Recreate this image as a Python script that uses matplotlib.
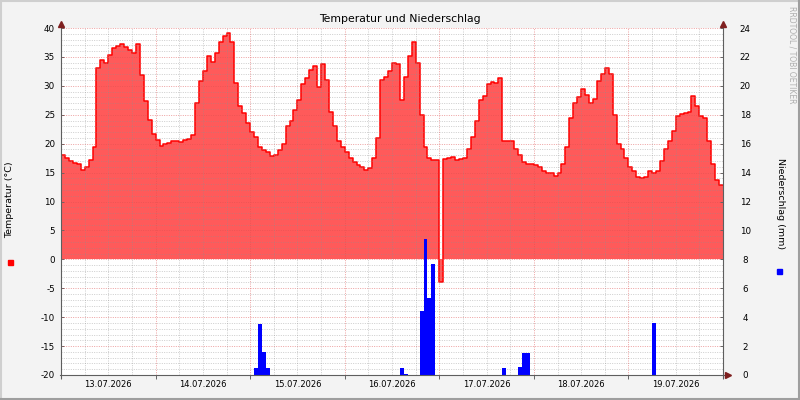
import numpy as np
import matplotlib
matplotlib.use("Agg")
import matplotlib.pyplot as plt
from matplotlib.patches import Rectangle
from matplotlib.lines import Line2D

plt.rcParams["axes.unicode_minus"] = False

# ---------------- data ----------------
title = "Temperatur und Niederschlag"
left_label = "Temperatur (°C)"
right_label = "Niederschlag (mm)"
watermark = "RRDTOOL / TOBI OETIKER"
day_labels = ["13.07.2026", "14.07.2026", "15.07.2026", "16.07.2026",
              "17.07.2026", "18.07.2026", "19.07.2026"]

# hourly temperature values (°C), one list per day
temp_day1 = [18.0, 17.6, 17.0, 16.6, 16.5, 15.4, 15.9, 17.2, 19.5, 33.0, 34.5, 33.9,
             35.3, 36.6, 36.9, 37.3, 36.8, 36.2, 35.6, 37.2, 31.9, 27.3, 24.1, 21.6]
temp_day2 = [20.6, 19.6, 19.9, 20.2, 20.4, 20.5, 20.3, 20.6, 20.8, 21.5, 27.0, 30.9,
             32.5, 35.2, 34.2, 35.7, 37.5, 38.6, 39.2, 37.5, 30.5, 26.5, 25.3, 23.5]
temp_day3 = [22.0, 21.2, 19.5, 18.9, 18.5, 17.9, 18.0, 18.9, 20.0, 23.0, 24.0, 25.8,
             27.5, 30.3, 31.3, 32.8, 33.5, 29.8, 33.8, 31.0, 25.5, 23.0, 20.5, 19.4]
temp_day4 = [18.6, 17.5, 16.8, 16.3, 16.0, 15.4, 15.8, 17.5, 21.0, 31.0, 31.5, 32.5,
             34.0, 33.8, 27.5, 31.6, 35.2, 37.5, 34.0, 25.0, 19.5, 17.5, 17.2, 17.2]
temp_day5 = [-4.0, 17.3, 17.6, 17.7, 17.2, 17.3, 17.5, 19.0, 21.2, 24.0, 27.5, 28.2,
             30.3, 30.6, 30.5, 31.3, 20.5, 20.4, 20.5, 19.0, 18.0, 16.8, 16.4, 16.5]
temp_day6 = [16.3, 15.9, 15.2, 15.0, 15.0, 14.4, 15.0, 16.5, 19.5, 24.5, 27.0, 28.0,
             29.5, 28.4, 27.0, 27.8, 30.9, 32.0, 33.0, 32.0, 25.0, 20.0, 19.0, 17.5]
temp_day7 = [16.0, 15.2, 14.3, 14.0, 14.3, 15.2, 15.0, 15.3, 17.0, 19.0, 20.4, 22.2,
             24.8, 25.1, 25.3, 25.5, 28.3, 26.5, 24.8, 24.5, 20.5, 16.5, 13.8, 12.9]

# precipitation (mm) at given hour index since 13.07. 00:00
rain_hours = [49, 50, 51, 52, 86, 87, 91, 92, 93, 94, 112, 116, 117, 118, 150]
rain_mm = [0.5, 3.5, 1.6, 0.5, 0.5, 0.05, 4.45, 9.4, 5.3, 7.7, 0.5, 0.55, 1.5, 1.5, 3.6]

# ---------------- prep ----------------
temperature = np.array(temp_day1 + temp_day2 + temp_day3 + temp_day4 +
                       temp_day5 + temp_day6 + temp_day7)
n = len(temperature)
t_edges = np.arange(n + 1)
temp_steps = np.append(temperature, temperature[-1])
rain = np.zeros(n)
rain[rain_hours] = rain_mm
rain_steps = np.append(rain, rain[-1])

W, H = 800, 400
L, R, B, T = 61, 723, 375, 28

fig = plt.figure(figsize=(8, 4), dpi=100, facecolor="#F3F3F3")
ax = fig.add_axes([L / W, (H - B) / H, (R - L) / W, (B - T) / H])
ax.set_facecolor("white")

ax.fill_between(t_edges, 0, temp_steps, step="post", color="#FF5A5A", lw=0, zorder=1)
ax.step(t_edges, temp_steps, where="post", color="#FF0000", lw=1.1, zorder=2)

ax.set_xlim(0, n)
ax.set_ylim(-20, 40)

# grid (on top of the area, like rrdtool)
dot = (0, (1.0, 1.4))
for y in range(-20, 41):
    if y % 5 == 0:
        ax.axhline(y, color="#DE5151", alpha=0.55, lw=0.7, ls=dot, zorder=3)
    else:
        ax.axhline(y, color="#8F8F8F", alpha=0.45, lw=0.7, ls=dot, zorder=3)
for hx in range(0, n + 1, 6):
    if hx % 24 == 0:
        ax.axvline(hx, color="#DE5151", alpha=0.55, lw=0.7, ls=dot, zorder=3)
    else:
        ax.axvline(hx, color="#8F8F8F", alpha=0.45, lw=0.7, ls=dot, zorder=3)

for s in ax.spines.values():
    s.set_visible(False)

# ticks
ax.set_yticks(range(-20, 41, 5))
ax.tick_params(axis="y", which="major", length=2, width=0.7, color="#666666",
               direction="in", pad=4.3, labelsize=6.3)
ax.set_xticks(range(0, n + 1, 24))
ax.set_xticklabels([])
ax.set_xticks([12 + 24 * i for i in range(len(day_labels))], minor=True)
ax.set_xticklabels(day_labels, minor=True)
ax.tick_params(axis="x", which="major", length=3, width=0.7, color="#666666",
               direction="out")
ax.tick_params(axis="x", which="minor", length=0, pad=3.3, labelsize=6.0)

# precipitation on secondary axis
ax2 = ax.twinx()
ax2.fill_between(t_edges, 0, rain_steps, step="post", color="#0000FF", lw=0, zorder=1)
ax2.set_ylim(0, 24)
ax2.set_xlim(0, n)
ax2.set_yticks(range(0, 25, 2))
for s in ax2.spines.values():
    s.set_visible(False)
ax2.tick_params(axis="y", length=2, width=0.7, color="#666666", direction="in",
                pad=16, labelsize=6.3)
for lab in ax2.get_yticklabels():
    lab.set_horizontalalignment("center")

# axis lines and arrows
axis_kw = dict(color="#5E5E5E", lw=0.8, zorder=10, clip_on=False, transform=ax.transData)
ax2.add_artist(Line2D([0, 0], [-20.6, 40.7], **axis_kw))
ax2.add_artist(Line2D([n, n], [-20.6, 40.7], **axis_kw))
ax2.add_artist(Line2D([-0.3, n + 1.0], [-20, -20], **axis_kw))
arrow_kw = dict(color="#7F1F1F", markersize=4.2, lw=0, zorder=11, clip_on=False,
                transform=ax.transData)
ax2.add_artist(Line2D([0], [40.75], marker="^", **arrow_kw))
ax2.add_artist(Line2D([n], [40.75], marker="^", **arrow_kw))
ax2.add_artist(Line2D([n + 1.3], [-20], marker=">", **arrow_kw))

# texts
fig.text(0.5, 1 - 19 / H, title, ha="center", va="center", fontsize=7.8, color="black")
fig.text(10 / W, 1 - 200 / H, left_label, rotation=90, ha="center", va="center",
         fontsize=6.8)
fig.text(780 / W, 1 - 204 / H, right_label, rotation=270, ha="center", va="center",
         fontsize=6.8)
fig.text(792 / W, 1 - 55 / H, watermark, rotation=270, ha="center", va="center",
         fontsize=5.5, color="#AEAEAE")

# legend squares
fig.add_artist(Rectangle((8 / W, 1 - 265 / H), 5 / W, 5 / H, color="#FF0000",
                         transform=fig.transFigure))
fig.add_artist(Rectangle((777 / W, 1 - 274 / H), 5 / W, 5 / H, color="#0000FF",
                         transform=fig.transFigure))

# shaded border
fig.add_artist(Line2D([0, 1], [1 - 1 / H, 1 - 1 / H], color="#CFCFCF", lw=1.5,
                      transform=fig.transFigure))
fig.add_artist(Line2D([1 / W, 1 / W], [0, 1], color="#CFCFCF", lw=1.5,
                      transform=fig.transFigure))
fig.add_artist(Line2D([0, 1], [1 / H, 1 / H], color="#9E9E9E", lw=1.5,
                      transform=fig.transFigure))
fig.add_artist(Line2D([1 - 1 / W, 1 - 1 / W], [0, 1], color="#9E9E9E", lw=1.5,
                      transform=fig.transFigure))

fig.savefig("out.png", dpi=100, facecolor=fig.get_facecolor())
